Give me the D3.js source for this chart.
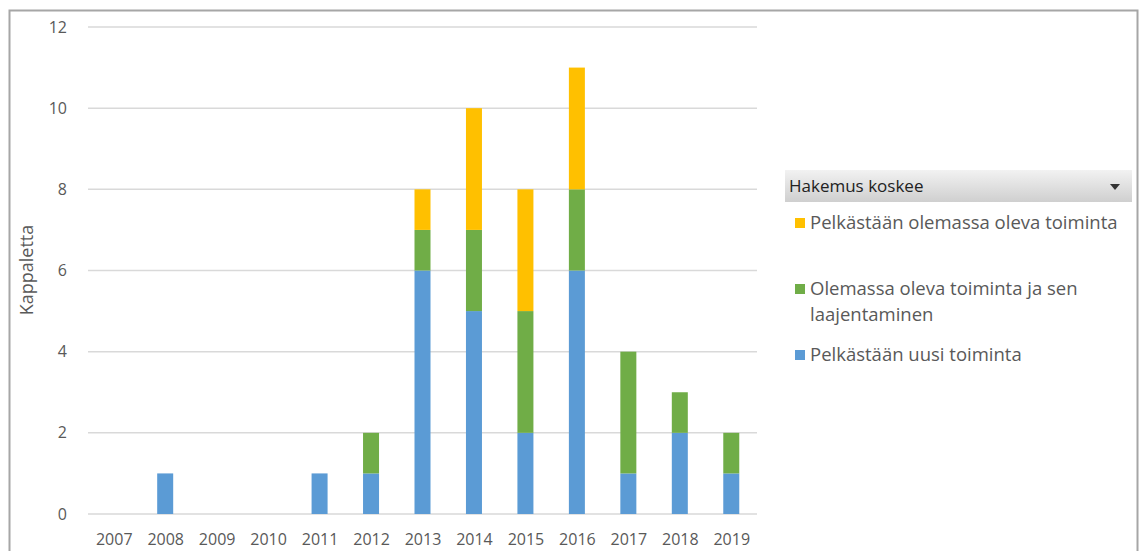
<!DOCTYPE html>
<html>
<head>
<meta charset="utf-8">
<script src="https://cdn.jsdelivr.net/npm/d3@7"></script>
<style>
  html, body { margin: 0; padding: 0; background: #fff; }
  svg { display: block; font-family: "Open Sans", Lato, sans-serif; }
</style>
</head>
<body>
<svg id="chart" width="1141" height="551"></svg>
<script>
// Applications per year, split by what the application concerns
const years = ["2007","2008","2009","2010","2011","2012","2013","2014","2015","2016","2017","2018","2019"];
const uusi      = [0,1,0,0,1,1,6,5,2,6,1,2,1];   // Pelkästään uusi toiminta
const laajennus = [0,0,0,0,0,1,1,2,3,2,3,1,1];   // Olemassa oleva toiminta ja sen laajentaminen
const olemassa  = [0,0,0,0,0,0,1,3,3,3,0,0,0];   // Pelkästään olemassa oleva toiminta
const yTicks = [0,2,4,6,8,10,12];
const seriesNames = ["Pelkästään uusi toiminta", "Olemassa oleva toiminta ja sen laajentaminen", "Pelkästään olemassa oleva toiminta"];
const seriesColors = ["#5B9BD5", "#70AD47", "#FFC000"];
const legendTitle = "Hakemus koskee";
const yTitle = "Kappaletta";

const svg = d3.select("#chart");
const textColor = "#595959";
const font = "'Open Sans', Lato, sans-serif";

// outer frame
svg.append("rect")
  .attr("x", 9.5).attr("y", 10.5).attr("width", 1128).attr("height", 560)
  .attr("fill", "#fff").attr("stroke", "#a6a6a6").attr("stroke-width", 2);

const plot = { left: 88, right: 757, top: 27, bottom: 514 };

const x = d3.scaleBand().domain(years).range([plot.left, plot.right]).paddingInner(0.69).paddingOuter(0.345);
const y = d3.scaleLinear().domain([0, 12]).range([plot.bottom, plot.top]);

// gridlines
svg.append("g").selectAll("line").data(yTicks).join("line")
  .attr("x1", plot.left).attr("x2", plot.right)
  .attr("y1", d => y(d)).attr("y2", d => y(d))
  .attr("stroke", "#d9d9d9").attr("stroke-width", 1.5);

// y axis labels
const yAxis = svg.append("g").attr("transform", `translate(${plot.left - 14},0)`)
  .call(d3.axisLeft(y).tickValues(yTicks).tickSize(0).tickPadding(7));
yAxis.select(".domain").remove();
yAxis.selectAll("text").attr("fill", textColor).style("font-size", "16px").style("font-family", font);

// x axis labels
const xAxis = svg.append("g").attr("transform", `translate(0,${plot.bottom})`)
  .call(d3.axisBottom(d3.scalePoint().domain(years).range([plot.left + (plot.right - plot.left) / 26, plot.right - (plot.right - plot.left) / 26])).tickSize(0).tickPadding(20));
xAxis.select(".domain").remove();
xAxis.selectAll("text").attr("fill", textColor).style("font-size", "16px").style("font-family", font);

// stacked bars
const table = years.map((yr, i) => ({ year: yr, s0: uusi[i], s1: laajennus[i], s2: olemassa[i] }));
const stacked = d3.stack().keys(["s0","s1","s2"])(table);
const bw = 16;
svg.append("g").selectAll("g").data(stacked).join("g")
  .attr("fill", (d, i) => seriesColors[i])
  .selectAll("rect").data(d => d.filter(p => p[1] > p[0])).join("rect")
  .attr("x", d => x(d.data.year) + x.bandwidth() / 2 - bw / 2)
  .attr("width", bw)
  .attr("y", d => y(d[1]))
  .attr("height", d => y(d[0]) - y(d[1]));

// y axis title
svg.append("text")
  .attr("transform", "translate(33,270) rotate(-90)")
  .attr("text-anchor", "middle")
  .attr("fill", textColor)
  .style("font-size", "18px")
  .text(yTitle);

// legend header
const grad = svg.append("defs").append("linearGradient").attr("id", "hdr").attr("x1", 0).attr("y1", 0).attr("x2", 0).attr("y2", 1);
grad.append("stop").attr("offset", "0%").attr("stop-color", "#f2f2f2");
grad.append("stop").attr("offset", "100%").attr("stop-color", "#cfcfcf");
svg.append("rect").attr("x", 785).attr("y", 170).attr("width", 347).attr("height", 32).attr("fill", "url(#hdr)");
svg.append("text").attr("x", 789).attr("y", 192).attr("fill", "#222").style("font-size", "17px").text(legendTitle);
svg.append("path").attr("d", "M1110,184 L1120,184 L1115,190 Z").attr("fill", "#333");

// legend items (top to bottom: reverse stack order)
const legendItems = [
  { idx: 2, lines: ["Pelkästään olemassa oleva toiminta"], y: 223 },
  { idx: 1, lines: ["Olemassa oleva toiminta ja sen", "laajentaminen"], y: 289 },
  { idx: 0, lines: ["Pelkästään uusi toiminta"], y: 355 }
];
const lg = svg.append("g").selectAll("g").data(legendItems).join("g");
lg.append("rect").attr("x", 795).attr("y", d => d.y - 5).attr("width", 10).attr("height", 10)
  .attr("fill", d => seriesColors[d.idx]);
lg.append("text").attr("fill", textColor).style("font-size", "18.5px")
  .selectAll("tspan").data(d => d.lines.map((t, k) => ({ t, k, y: d.y }))).join("tspan")
  .attr("x", 810).attr("y", d => d.y + 6 + d.k * 26).text(d => d.t);
</script>
</body>
</html>
